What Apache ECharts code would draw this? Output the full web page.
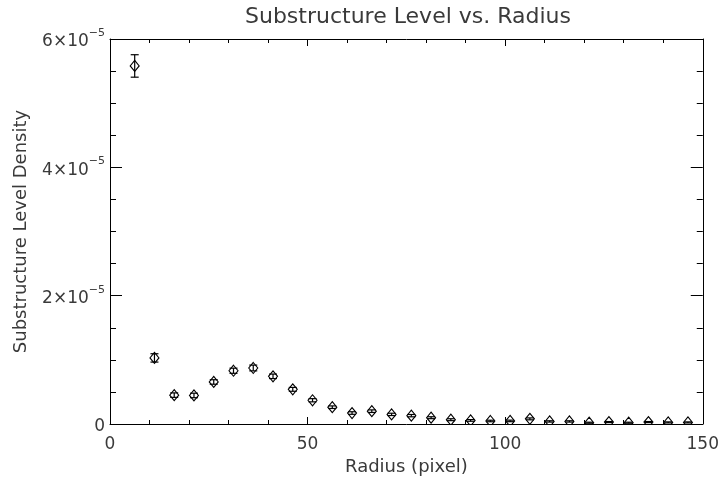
<!DOCTYPE html>
<html>
<head>
<meta charset="utf-8">
<script src="https://cdn.jsdelivr.net/npm/echarts@6/dist/echarts.min.js"></script>
<style>
  html, body { margin: 0; padding: 0; background: #ffffff; }
  #chart { width: 722px; height: 481px; }
</style>
</head>
<body>
<div id="chart"></div>
<script>
// Radius bin centres (pixel)
const radius = [6.25, 11.25, 16.25, 21.25, 26.25, 31.25, 36.25, 41.25, 46.25, 51.25,
                56.25, 61.25, 66.25, 71.25, 76.25, 81.25, 86.25, 91.25, 96.25, 101.25,
                106.25, 111.25, 116.25, 121.25, 126.25, 131.25, 136.25, 141.25, 146.25];
// Substructure level density per bin
const density = [5.58e-5, 1.03e-5, 0.45e-5, 0.445e-5, 0.655e-5, 0.83e-5, 0.873e-5, 0.743e-5, 0.54e-5, 0.37e-5,
                 0.262e-5, 0.171e-5, 0.20e-5, 0.15e-5, 0.13e-5, 0.098e-5, 0.067e-5, 0.056e-5, 0.047e-5, 0.048e-5,
                 0.08e-5, 0.04e-5, 0.04e-5, 0.02e-5, 0.03e-5, 0.02e-5, 0.03e-5, 0.025e-5, 0.025e-5];
// One-sigma uncertainty per bin
const densityErr = [0.175e-5, 0.065e-5, 0.035e-5, 0.035e-5, 0.035e-5, 0.04e-5, 0.045e-5, 0.035e-5, 0.03e-5, 0.025e-5,
                    0.02e-5, 0.02e-5, 0.02e-5, 0.018e-5, 0.018e-5, 0.015e-5, 0.015e-5, 0.013e-5, 0.012e-5, 0.012e-5,
                    0.015e-5, 0.01e-5, 0.01e-5, 0.008e-5, 0.008e-5, 0.008e-5, 0.008e-5, 0.008e-5, 0.008e-5];
// Axis tick labels
const xTickLabels = ['0', '50', '100', '150'];
const yTickMantissa = ['0', '2', '4', '6'];

const FONT = 'DejaVu Sans';
const INK = '#000000';
const TXT = '#3a3a3a';

const chart = echarts.init(document.getElementById('chart'), null, { renderer: 'canvas' });

const points = radius.map((r, i) => [r, density[i], densityErr[i]]);

function yLabel(v) {
  const idx = Math.round(v / 2e-5);
  const m = yTickMantissa[idx];
  if (m === '0') return '{b|0}';
  return '{b|' + m + '×10}{s|−5}';
}

const tickStyle = { color: INK, width: 1 };

chart.setOption({
  backgroundColor: '#ffffff',
  animation: false,
  title: {
    text: 'Substructure Level vs. Radius',
    left: 403,
    top: 1,
    textAlign: 'center',
    textStyle: { fontFamily: FONT, fontSize: 22, fontWeight: 'normal', color: TXT }
  },
  grid: { left: 110, right: 19, top: 39, bottom: 57 },
  xAxis: [{
    type: 'value',
    min: 0, max: 150, interval: 50,
    name: 'Radius (pixel)',
    nameLocation: 'middle',
    nameGap: 33,
    nameTextStyle: { fontFamily: FONT, fontSize: 18, color: TXT },
    axisLine: { show: true, onZero: false, lineStyle: { color: INK, width: 1 } },
    axisTick: { show: true, inside: true, length: 7, lineStyle: tickStyle },
    minorTick: { show: true, splitNumber: 5, length: 4, lineStyle: tickStyle },
    splitLine: { show: false },
    axisLabel: {
      margin: 12,
      fontFamily: FONT, fontSize: 17, color: TXT,
      formatter: v => xTickLabels[Math.round(v / 50)]
    }
  }, {
    type: 'value', position: 'top',
    min: 0, max: 150, interval: 50,
    axisLine: { show: true, onZero: false, lineStyle: { color: INK, width: 1 } },
    axisTick: { show: true, inside: true, length: 7, lineStyle: tickStyle },
    minorTick: { show: true, splitNumber: 5, length: 4, lineStyle: tickStyle },
    splitLine: { show: false },
    axisLabel: { show: false }
  }],
  yAxis: [{
    type: 'value',
    min: 0, max: 6e-5, interval: 2e-5,
    name: 'Substructure Level Density',
    nameLocation: 'middle',
    nameGap: 80,
    nameTextStyle: { fontFamily: FONT, fontSize: 18, color: TXT },
    axisLine: { show: true, onZero: false, lineStyle: { color: INK, width: 1 } },
    axisTick: { show: true, inside: true, length: 12, lineStyle: tickStyle },
    minorTick: { show: true, splitNumber: 4, length: 6, lineStyle: tickStyle },
    splitLine: { show: false },
    axisLabel: {
      margin: 5,
      formatter: yLabel,
      rich: {
        b: { fontFamily: FONT, fontSize: 17, color: TXT, padding: [6, 0, 0, 0] },
        s: { fontFamily: FONT, fontSize: 11, color: TXT, verticalAlign: 'top', padding: [0, 0, 0, 0] }
      }
    }
  }, {
    type: 'value', position: 'right',
    min: 0, max: 6e-5, interval: 2e-5,
    axisLine: { show: true, onZero: false, lineStyle: { color: INK, width: 1 } },
    axisTick: { show: true, inside: true, length: 12, lineStyle: tickStyle },
    minorTick: { show: true, splitNumber: 4, length: 6, lineStyle: tickStyle },
    splitLine: { show: false },
    axisLabel: { show: false }
  }],
  series: [{
    type: 'custom',
    xAxisIndex: 0,
    yAxisIndex: 0,
    clip: true,
    data: points,
    encode: { x: 0, y: 1 },
    renderItem: function (params, api) {
      const x = api.value(0), y = api.value(1), e = api.value(2);
      const c = api.coord([x, y]);
      const top = api.coord([x, y + e]);
      const bot = api.coord([x, y - e]);
      const hw = 4.5, hh = 5.5, cap = 4;
      const ls = { stroke: INK, lineWidth: 1.2, fill: null };
      return {
        type: 'group',
        children: [
          { type: 'polygon', shape: { points: [[c[0], c[1] - hh], [c[0] + hw, c[1]], [c[0], c[1] + hh], [c[0] - hw, c[1]]] },
            style: { stroke: INK, lineWidth: 1.1, fill: null } },
          { type: 'line', shape: { x1: c[0], y1: top[1], x2: c[0], y2: bot[1] }, style: ls },
          { type: 'line', shape: { x1: c[0] - cap, y1: top[1], x2: c[0] + cap, y2: top[1] }, style: ls },
          { type: 'line', shape: { x1: c[0] - cap, y1: bot[1], x2: c[0] + cap, y2: bot[1] }, style: ls }
        ]
      };
    }
  }]
});
</script>
</body>
</html>
